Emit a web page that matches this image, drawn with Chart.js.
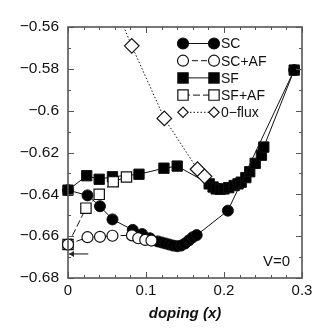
<!DOCTYPE html>
<html><head><meta charset="utf-8">
<script src="https://cdn.jsdelivr.net/npm/chart.js@4.4.0/dist/chart.umd.min.js"></script>
<style>html,body{margin:0;padding:0;background:#fff;}</style>
</head><body>
<canvas id="c" width="332" height="328"></canvas>
<script>
// ---- data ----
const scX   = [0, 0.025, 0.041, 0.057, 0.083, 0.095, 0.105, 0.115, 0.12, 0.125, 0.13, 0.135, 0.14, 0.145, 0.15, 0.155, 0.16, 0.165, 0.205, 0.29];
const scY   = [-0.638, -0.6405, -0.6457, -0.652, -0.657, -0.659, -0.661, -0.6625, -0.663, -0.6635, -0.664, -0.6645, -0.6648, -0.6645, -0.6635, -0.662, -0.6605, -0.6595, -0.6478, -0.5806];
const scafX = [0, 0.025, 0.041, 0.057, 0.082, 0.09, 0.099, 0.107];
const scafY = [-0.664, -0.6605, -0.6603, -0.6598, -0.6596, -0.661, -0.6618, -0.6621];
const sfX   = [0, 0.024, 0.040, 0.057, 0.091, 0.123, 0.140, 0.181, 0.186, 0.19, 0.195, 0.2, 0.206, 0.213, 0.218, 0.222, 0.228, 0.233, 0.240, 0.248, 0.251, 0.29];
const sfY   = [-0.638, -0.6311, -0.6328, -0.6316, -0.6304, -0.6275, -0.6265, -0.635, -0.6365, -0.6374, -0.6376, -0.6374, -0.6368, -0.6358, -0.635, -0.6342, -0.632, -0.6292, -0.6252, -0.6213, -0.6174, -0.5806];
const sfafX = [0, 0.023, 0.040, 0.058, 0.075];
const sfafY = [-0.664, -0.6466, -0.640, -0.634, -0.6317];
const fluxX = [0.0625, 0.0817, 0.1235, 0.166, 0.175];
const fluxY = [-0.552, -0.569, -0.6037, -0.628, -0.6314];
const xTickValues = [0, 0.1, 0.2, 0.3];
const yTickValues = [-0.68, -0.66, -0.64, -0.62, -0.6, -0.58, -0.56];
const seriesNames = ['SC', 'SC+AF', 'SF', 'SF+AF', '0\u2212flux'];
const xTitle = 'doping (x)';
const noteText = 'V=0';
const arrowX = [0, 0.026];
const arrowY = -0.6685;

const FONT = '"Liberation Sans", Arial, sans-serif';
const INK = '#111';

function pts(xs, ys) { return xs.map((x, i) => ({x: x, y: ys[i]})); }

const datasets = [
  {label: seriesNames[0], data: pts(scX, scY), pointStyle: 'circle', pointRadius: 5.5, backgroundColor: '#000', borderColor: INK, borderWidth: 1, pointBorderWidth: 1, borderDash: [], order: 1, clip: 12},
  {label: seriesNames[1], data: pts(scafX, scafY), pointStyle: 'circle', pointRadius: 5.5, backgroundColor: '#fff', borderColor: INK, borderWidth: 1, pointBorderWidth: 1.2, borderDash: [6, 3], order: 0, clip: 12},
  {label: seriesNames[2], data: pts(sfX, sfY), pointStyle: 'rect', pointRadius: 7.3, backgroundColor: '#000', borderColor: INK, borderWidth: 1, pointBorderWidth: 1, borderDash: [], order: 1, clip: 12},
  {label: seriesNames[3], data: pts(sfafX, sfafY), pointStyle: 'rect', pointRadius: 7.3, backgroundColor: '#fff', borderColor: INK, borderWidth: 1, pointBorderWidth: 1.2, borderDash: [7, 3], order: 0, clip: 12},
  {label: seriesNames[4], data: pts(fluxX, fluxY), pointStyle: 'rectRot', pointRadius: 7.3, backgroundColor: '#fff', borderColor: INK, borderWidth: 1, pointBorderWidth: 1.2, borderDash: [1.5, 2], order: 0, clip: 0}
];
datasets.forEach(d => { d.showLine = true; d.tension = 0; d.pointBackgroundColor = d.backgroundColor; d.pointBorderColor = INK; d.pointHoverRadius = d.pointRadius; });

function fmt(v) {
  let s = String(Number(v.toFixed(3)));
  return s.replace('-', '\u2212');
}

function drawMarker(ctx, style, r, x, y, fill) {
  ctx.beginPath();
  if (style === 'circle') ctx.arc(x, y, r, 0, Math.PI * 2);
  else if (style === 'rect') { const s = r * Math.SQRT1_2; ctx.rect(x - s, y - s, 2 * s, 2 * s); }
  else { const s = r * Math.SQRT1_2; ctx.moveTo(x - s, y); ctx.lineTo(x, y + s); ctx.lineTo(x + s, y); ctx.lineTo(x, y - s); ctx.closePath(); }
  ctx.fillStyle = fill; ctx.fill();
  ctx.lineWidth = 1.2; ctx.strokeStyle = INK; ctx.stroke();
}

const framePlugin = {
  id: 'frame',
  afterDraw(chart) {
    const {ctx, chartArea: a, scales} = chart;
    const xs = scales.x, ys = scales.y;
    ctx.save();
    // ticks (inward, all four sides)
    ctx.strokeStyle = '#555'; ctx.lineWidth = 1;
    for (let i = 0; i <= 15; i++) {
      const v = i * 0.02, px = Math.round(xs.getPixelForValue(v)) + 0.5;
      const len = (i % 5 === 0) ? 6 : 3;
      ctx.beginPath(); ctx.moveTo(px, a.bottom); ctx.lineTo(px, a.bottom - len);
      ctx.moveTo(px, a.top); ctx.lineTo(px, a.top + len); ctx.stroke();
    }
    for (let i = 0; i <= 12; i++) {
      const v = -0.68 + i * 0.01, py = Math.round(ys.getPixelForValue(v)) + 0.5;
      const len = (i % 2 === 0) ? 6 : 3;
      ctx.beginPath(); ctx.moveTo(a.left, py); ctx.lineTo(a.left + len, py);
      ctx.moveTo(a.right, py); ctx.lineTo(a.right - len, py); ctx.stroke();
    }
    // frame
    ctx.strokeStyle = '#555'; ctx.lineWidth = 1.6;
    ctx.strokeRect(a.left, a.top, a.right - a.left, a.bottom - a.top);
    // arrow
    const ax0 = xs.getPixelForValue(arrowX[0]) + 1, ax1 = xs.getPixelForValue(arrowX[1]), ay = ys.getPixelForValue(arrowY);
    ctx.strokeStyle = '#333'; ctx.lineWidth = 1.2;
    ctx.beginPath(); ctx.moveTo(ax1, ay); ctx.lineTo(ax0, ay); ctx.stroke();
    ctx.beginPath(); ctx.moveTo(ax0, ay); ctx.lineTo(ax0 + 5, ay - 3); ctx.lineTo(ax0 + 5, ay + 3); ctx.closePath();
    ctx.fillStyle = '#222'; ctx.fill();
    // note
    ctx.fillStyle = INK; ctx.font = '15px ' + FONT; ctx.textAlign = 'right'; ctx.textBaseline = 'middle';
    ctx.fillText(noteText, a.right - 12, a.bottom - 16);
    // legend
    const lx0 = a.right - 119, lx1 = a.right - 88, tx = a.right - 81;
    ctx.font = '14px ' + FONT; ctx.textAlign = 'left';
    chart.data.datasets.forEach((d, i) => {
      const y = a.top + 16.5 + i * 17.2;
      ctx.save();
      ctx.strokeStyle = INK; ctx.lineWidth = 1; ctx.setLineDash(d.borderDash);
      ctx.beginPath(); ctx.moveTo(lx0, y); ctx.lineTo(lx1, y); ctx.stroke();
      ctx.restore();
      drawMarker(ctx, d.pointStyle, d.pointRadius, lx0, y, d.backgroundColor);
      drawMarker(ctx, d.pointStyle, d.pointRadius, lx1, y, d.backgroundColor);
      ctx.fillStyle = INK; ctx.fillText(d.label, tx, y + 1);
    });
    ctx.restore();
  }
};

new Chart(document.getElementById('c'), {
  type: 'scatter',
  data: {datasets: datasets},
  options: {
    responsive: false,
    animation: false,
    events: [],
    layout: {padding: {left: 0, right: 30, top: 27, bottom: 0}},
    plugins: {legend: {display: false}, tooltip: {enabled: false}},
    scales: {
      x: {
        type: 'linear', min: 0, max: 0.3,
        afterBuildTicks: s => { s.ticks = xTickValues.map(v => ({value: v})); },
        afterFit: s => { s.height = 50; },
        grid: {display: false, drawTicks: false},
        border: {display: false},
        ticks: {padding: 4, color: INK, font: {family: FONT, size: 15}, callback: v => fmt(v), maxRotation: 0},
        title: {display: true, text: xTitle, color: INK, font: {family: FONT, size: 15, weight: 'bold', style: 'italic'}, padding: {top: 0, bottom: 5}}
      },
      y: {
        type: 'linear', min: -0.68, max: -0.56,
        afterBuildTicks: s => { s.ticks = yTickValues.map(v => ({value: v})); },
        afterFit: s => { s.width = 68; },
        grid: {display: false, drawTicks: false},
        border: {display: false},
        ticks: {padding: 9, color: INK, font: {family: FONT, size: 15.5}, callback: v => fmt(v)}
      }
    }
  },
  plugins: [framePlugin]
});
</script>
</body></html>
